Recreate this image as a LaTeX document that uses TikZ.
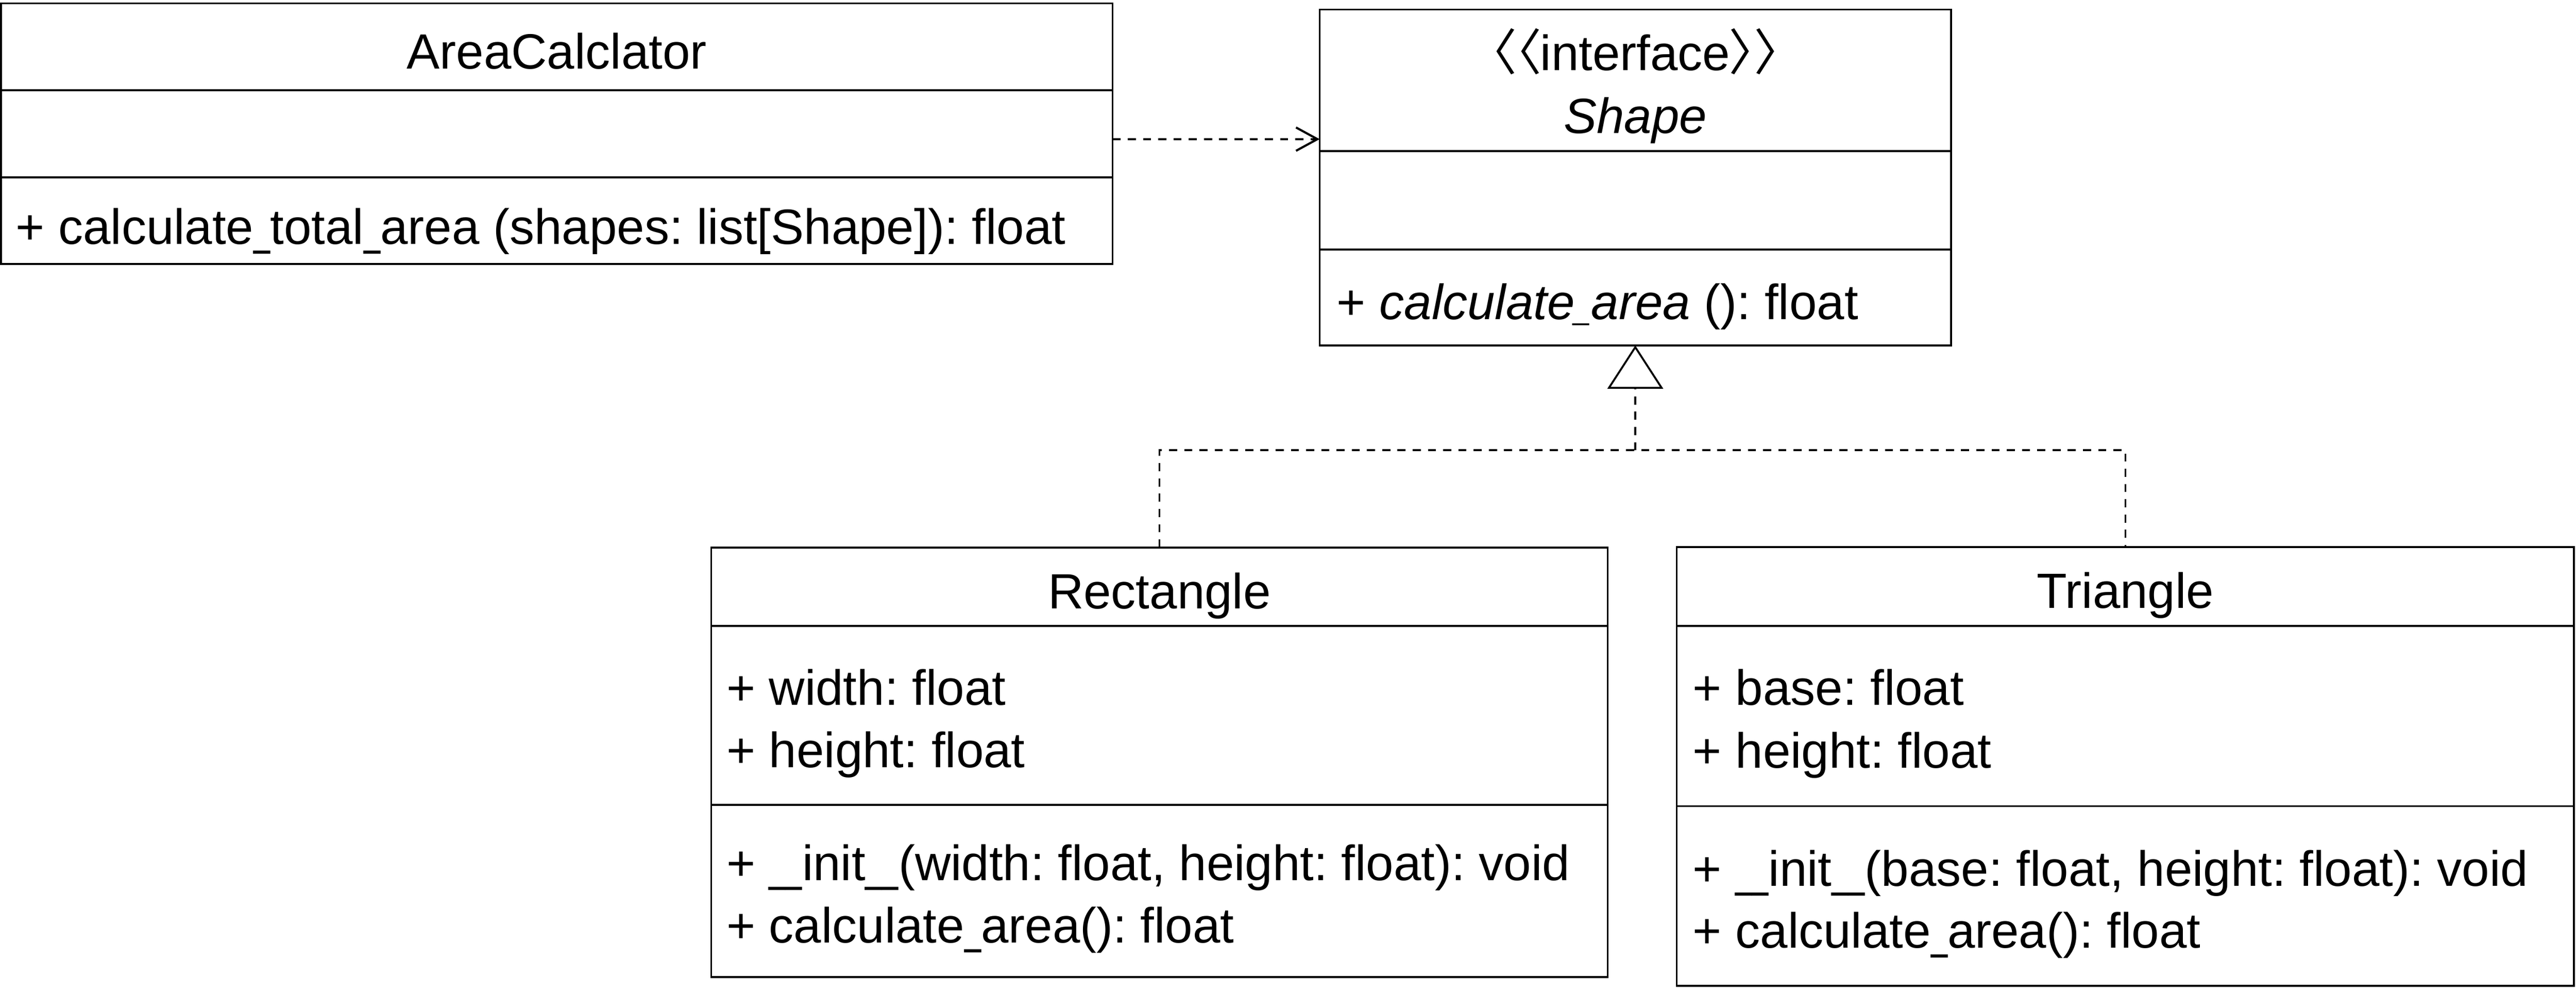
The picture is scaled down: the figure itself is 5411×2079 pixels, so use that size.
\documentclass[tikz,border=0pt]{standalone}
\usepackage{graphicx}
\usepackage{fontspec}
\setmainfont{Liberation Sans}
\newfontfamily\cjk[RawFeature=+palt]{Noto Sans CJK JP}
\usetikzlibrary{arrows.meta}
\newcommand\umlfont{\fontsize{10.4pt}{12pt}\selectfont\frenchspacing}
\newcommand\us{\scalebox{0.6}[1]{\_}}
\tikzset{
  umlbox/.style={draw, line width=0.4pt, inner sep=0pt, outer sep=0pt, anchor=north west},
  cname/.style={anchor=base, inner sep=0pt, font=\umlfont},
  member/.style={anchor=base west, inner sep=0pt, font=\umlfont},
  divider/.style={line width=0.4pt},
  dashline/.style={line width=0.4pt, dash pattern=on 1.7pt off 1.5pt},
  dep/.style={dashline, -{Straight Barb[length=4.5pt,width=4.9pt,line width=0.45pt]}},
  realiz/.style={dashline, -{Triangle[open,length=9.1pt,width=11.7pt,line width=0.4pt]}},
}
\begin{document}
\begin{tikzpicture}[x=0.1pt,y=-0.1pt]
\fill[white] (0,0) rectangle (5411,2079);
\useasboundingbox (0,0) rectangle (5411,2079);

% AreaCalclator
\node[umlbox, minimum width=233.5pt, minimum height=54.7pt] (ac) at (2,7) {};
\draw[divider] (ac.west |- 0,189) -- (ac.east |- 0,189);
\draw[divider] (ac.west |- 0,372) -- (ac.east |- 0,372);
\node[cname] (acn) at (ac.north |- 0,144) {AreaCalclator};
\node[member] (acm) at (31,512) {+ calculate\us total\us area (shapes: list[Shape]): float};

% Shape
\node[umlbox, minimum width=132.6pt, minimum height=70.5pt] (sh) at (2772,20) {};
\draw[divider] (sh.west |- 0,317) -- (sh.east |- 0,317);
\draw[divider] (sh.west |- 0,524) -- (sh.east |- 0,524);
\node[cname] (shs) at (sh.north |- 0,148) {{\cjk 〈〈}interface{\cjk 〉〉}};
\node[cname] (shn) at (sh.north |- 0,280) {\itshape Shape};
\node[member] (shm) at (2806,670) {+ \textit{calculate\us area} (): float};

% Rectangle
\node[umlbox, minimum width=188.3pt, minimum height=90.2pt] (rc) at (1494,1149) {};
\draw[divider] (rc.west |- 0,1314) -- (rc.east |- 0,1314);
\draw[divider] (rc.west |- 0,1689) -- (rc.east |- 0,1689);
\node[cname] (rcn) at (rc.north |- 0,1278) {Rectangle};
\node[member] (rca1) at (1524,1480) {+ width: float};
\node[member] (rca2) at (1524,1611) {+ height: float};
\node[member] (rcm1) at (1524,1848) {+ \us\us init\us\us(width: float, height: float): void};
\node[member] (rcm2) at (1524,1979) {+ calculate\us area(): float};

% Triangle
\node[umlbox, minimum width=188.5pt, minimum height=92.1pt] (tr) at (3522,1148) {};
\draw[divider] (tr.west |- 0,1314) -- (tr.east |- 0,1314);
\draw[divider] (tr.west |- 0,1692) -- (tr.east |- 0,1692);
\node[cname] (trn) at (tr.north |- 0,1276) {Triangle};
\node[member] (tra1) at (3554,1480) {+ base: float};
\node[member] (tra2) at (3554,1612) {+ height: float};
\node[member] (trm1) at (3554,1860) {+ \us\us init\us\us(base: float, height: float): void};
\node[member] (trm2) at (3554,1990) {+ calculate\us area(): float};

% connectors
\coordinate (ay) at (0,292);
\coordinate (jy) at (0,945);
\draw[dep] (ac.east |- ay) -- (sh.west |- ay);
\draw[dashline] (rc.north) |- (tr.north |- jy) -- (tr.north);
\draw[realiz] (sh.south |- jy) -- (sh.south);
\end{tikzpicture}
\end{document}
